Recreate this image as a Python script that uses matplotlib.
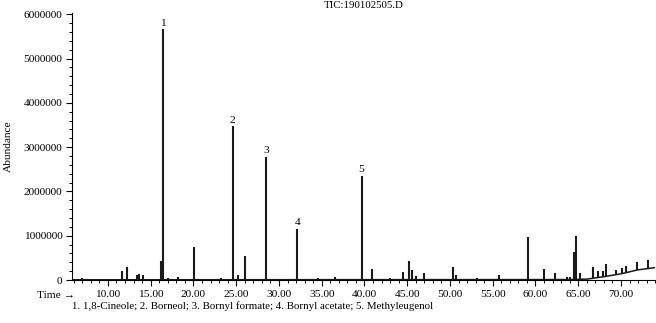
import matplotlib
matplotlib.use("Agg")
import matplotlib.pyplot as plt
import numpy as np
from matplotlib.ticker import MultipleLocator, FixedLocator

plt.rcParams['font.family'] = ['Liberation Serif', 'DejaVu Serif']

# Peak retention times (min) and apex abundances
peak_times = [7.0, 9.0, 11.63, 12.28, 13.45, 13.68, 14.08, 16.2, 16.41, 17.0, 18.2,
              20.09, 23.2, 24.57, 25.19, 26.0, 28.53, 32.14, 34.6, 36.6, 39.67, 40.88,
              43.0, 44.53, 45.23, 45.5, 46.08, 46.98, 50.36, 50.67, 53.2, 55.7,
              59.1, 60.97, 62.33, 63.7, 64.0, 64.46, 64.78, 65.24, 66.7, 67.3,
              67.85, 68.27, 69.39, 70.1, 70.6, 71.85, 73.1]
peak_heights = [40000, 30000, 200000, 290000, 110000, 130000, 110000, 430000, 5660000, 50000, 60000,
                740000, 40000, 3470000, 110000, 550000, 2780000, 1150000, 40000, 60000, 2350000, 240000,
                40000, 170000, 440000, 220000, 80000, 150000, 290000, 110000, 50000, 120000,
                970000, 250000, 150000, 70000, 70000, 640000, 1000000, 150000, 300000, 200000,
                200000, 360000, 230000, 260000, 320000, 410000, 450000]
labeled_peaks = {"1": 16.41, "2": 24.57, "3": 28.53, "4": 32.14, "5": 39.67}

# Rising baseline near the end of the run
base_times = [5.8, 64.0, 66.0, 68.0, 70.0, 72.0, 74.0]
base_vals = [5000, 10000, 20000, 75000, 140000, 230000, 280000]

x_major = [10, 15, 20, 25, 30, 35, 40, 45, 50, 55, 60, 65, 70]
y_major = [0, 1000000, 2000000, 3000000, 4000000, 5000000, 6000000]

fig = plt.figure(figsize=(6.56, 3.23), dpi=100)
ax = fig.add_axes([0.1098, 0.1331, 0.889, 0.827])

# baseline trace
bt = np.array(base_times)
bv = np.array(base_vals)
ax.plot(bt, bv, color='#1a1a1a', lw=1.1, zorder=2)

# peaks
pt = np.array(peak_times)
ph = np.array(peak_heights)
pb = np.interp(pt, bt, bv)
ax.vlines(pt, pb, ph, color='#1a1a1a', lw=1.5, zorder=3)

for lab, t in labeled_peaks.items():
    h = ph[np.argmin(np.abs(pt - t))]
    ax.text(t, h + 40000, lab, ha='center', va='bottom', fontsize=8.2)

ax.set_xlim(5.8, 74.0)
ax.set_ylim(0, 6030000)

for s in ['top', 'right']:
    ax.spines[s].set_visible(False)
for s in ['left', 'bottom']:
    ax.spines[s].set_linewidth(0.8)

ax.xaxis.set_major_locator(FixedLocator(x_major))
ax.set_xticklabels([f"{v:.2f}" for v in x_major])
ax.xaxis.set_minor_locator(MultipleLocator(1))
ax.yaxis.set_major_locator(FixedLocator(y_major))
ax.set_yticklabels([str(v) for v in y_major])
ax.yaxis.set_minor_locator(MultipleLocator(200000))

ax.tick_params(axis='both', which='major', labelsize=8.2, length=4, width=0.8, pad=3)
ax.tick_params(axis='both', which='minor', length=2.5, width=0.7)

ax.set_ylabel("Abundance", fontsize=8.2)
ax.yaxis.set_label_coords(-0.102, 0.5)

fig.text(0.114, 0.085, "Time \u2192", ha='right', va='center', fontsize=8.2)
fig.text(0.555, 0.984, "TIC:190102505.D", ha='center', va='center', fontsize=7.8)
fig.text(0.11, 0.053, "1. 1,8-Cineole; 2. Borneol; 3. Bornyl formate; 4. Bornyl acetate; 5. Methyleugenol",
         ha='left', va='center', fontsize=7.8)

fig.savefig("out.png", dpi=100)
